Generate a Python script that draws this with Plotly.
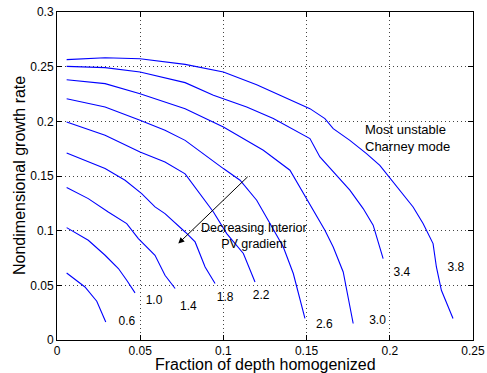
import plotly.graph_objects as go

# ---- data ----
labels = ["0.6", "1.0", "1.4", "1.8", "2.2", "2.6", "3.0", "3.4", "3.8"]

x_06 = [0.0058, 0.0168, 0.0239, 0.0293]
y_06 = [0.0613, 0.0485, 0.0355, 0.0165]

x_10 = [0.0058, 0.0188, 0.0289, 0.0369, 0.0419, 0.0469]
y_10 = [0.1028, 0.0912, 0.0775, 0.0654, 0.0547, 0.0431]

x_14 = [0.0058, 0.0188, 0.0308, 0.0419, 0.0489, 0.0589, 0.0649, 0.0710]
y_14 = [0.1394, 0.1293, 0.1171, 0.1065, 0.0928, 0.0775, 0.0592, 0.0471]

x_18 = [0.0058, 0.0289, 0.0409, 0.0509, 0.0589, 0.0649, 0.0770, 0.0830, 0.0890, 0.0950]
y_18 = [0.1710, 0.1568, 0.1461, 0.1339, 0.1217, 0.1156, 0.0988, 0.0897, 0.0668, 0.0516]

x_22 = [0.0058, 0.0289, 0.0499, 0.0649, 0.0770, 0.0830, 0.0940, 0.1020, 0.1120, 0.1190]
y_22 = [0.1994, 0.1872, 0.1719, 0.1628, 0.1520, 0.1400, 0.1171, 0.0973, 0.0791, 0.0531]

x_26 = [0.0058, 0.0289, 0.0499, 0.0649, 0.0770, 0.0890, 0.1000, 0.1100, 0.1200, 0.1280, 0.1360, 0.1420, 0.1490]
y_26 = [0.2207, 0.2131, 0.2009, 0.1918, 0.1826, 0.1689, 0.1568, 0.1461, 0.1278, 0.1065, 0.0851, 0.0608, 0.0197]

x_30 = [0.0058, 0.0289, 0.0499, 0.0649, 0.0770, 0.1000, 0.1240, 0.1400, 0.1470, 0.1540, 0.1610, 0.1660, 0.1720, 0.1780]
y_30 = [0.2381, 0.2345, 0.2253, 0.2176, 0.2116, 0.1948, 0.1735, 0.1553, 0.1370, 0.1187, 0.1004, 0.0851, 0.0622, 0.0151]

x_34 = [0.0058, 0.0289, 0.0499, 0.0770, 0.0940, 0.1140, 0.1300, 0.1520, 0.1580, 0.1700, 0.1760, 0.1840, 0.1900, 0.1960]
y_34 = [0.2503, 0.2491, 0.2451, 0.2354, 0.2238, 0.2131, 0.2025, 0.1842, 0.1674, 0.1476, 0.1370, 0.1202, 0.1050, 0.0745]

x_38 = [0.0058, 0.0289, 0.0499, 0.0770, 0.1000, 0.1200, 0.1340, 0.1520, 0.1610, 0.1660, 0.1760, 0.1860,
        0.1940, 0.2010, 0.2060, 0.2140, 0.2200, 0.2260, 0.2280, 0.2310, 0.2380]
y_38 = [0.2564, 0.2582, 0.2573, 0.2521, 0.2451, 0.2335, 0.2238, 0.2116, 0.2025, 0.1933, 0.1826, 0.1705,
        0.1598, 0.1461, 0.1370, 0.1217, 0.1065, 0.0882, 0.0668, 0.0455, 0.0197]

label_x = [0.0420, 0.0583, 0.0790, 0.1010, 0.1227, 0.1606, 0.1926, 0.2073, 0.2397]
label_y = [0.0165, 0.0357, 0.0300, 0.0388, 0.0400, 0.0135, 0.0175, 0.0613, 0.0659]

curves_x = [x_06, x_10, x_14, x_18, x_22, x_26, x_30, x_34, x_38]
curves_y = [y_06, y_10, y_14, y_18, y_22, y_26, y_30, y_34, y_38]

FONT = "Liberation Sans, Arial, sans-serif"

fig = go.Figure()
for cx, cy, lab in zip(curves_x, curves_y, labels):
    fig.add_trace(go.Scatter(x=cx, y=cy, mode="lines", name=lab,
                             line=dict(color="#0000ff", width=1.1), showlegend=False))

fig.add_trace(go.Scatter(x=label_x, y=label_y, mode="text", text=labels,
                         textfont=dict(family=FONT, size=12, color="black"),
                         showlegend=False))

annotations = [
    dict(x=0.184, y=0.1845, xref="x", yref="y", text="Most unstable<br>Charney mode",
         showarrow=False, xanchor="left", align="left",
         font=dict(family=FONT, size=13, color="black")),
    dict(x=0.1185, y=0.0949, xref="x", yref="y", text="Decreasing Interior<br>PV gradient",
         showarrow=False, xanchor="center", align="center",
         font=dict(family=FONT, size=12.5, color="black")),
    dict(x=0.0729, y=0.0882, ax=0.1155, ay=0.1506, xref="x", yref="y", axref="x", ayref="y",
         text="", showarrow=True, arrowhead=2, arrowsize=1.2, arrowwidth=1, arrowcolor="black"),
    dict(x=0.5, y=0, xref="paper", yref="paper", yshift=-24.5, text="Fraction of depth homogenized",
         showarrow=False, xanchor="center", yanchor="middle",
         font=dict(family=FONT, size=16, color="black")),
    dict(x=0, y=0.5, xref="paper", yref="paper", xshift=-38, text="Nondimensional growth rate",
         showarrow=False, xanchor="center", yanchor="middle", textangle=-90,
         font=dict(family=FONT, size=16, color="black")),
]

axis_common = dict(showline=True, linecolor="black", linewidth=1, mirror="ticks",
                   ticks="inside", ticklen=5, tickcolor="black", automargin=False,
                   showgrid=True, gridcolor="#444444", griddash="1px,3px", gridwidth=1,
                   zeroline=False, tickfont=dict(family=FONT, size=12, color="black"))

fig.update_layout(
    template="none",
    width=487, height=373,
    margin=dict(l=57, r=14, t=12, b=33, pad=0),
    paper_bgcolor="white", plot_bgcolor="white",
    xaxis=dict(range=[0, 0.25], dtick=0.05, tick0=0, **axis_common),
    yaxis=dict(range=[0, 0.3], dtick=0.05, tick0=0, **axis_common),
    annotations=annotations,
)

fig.write_html("out.html")
